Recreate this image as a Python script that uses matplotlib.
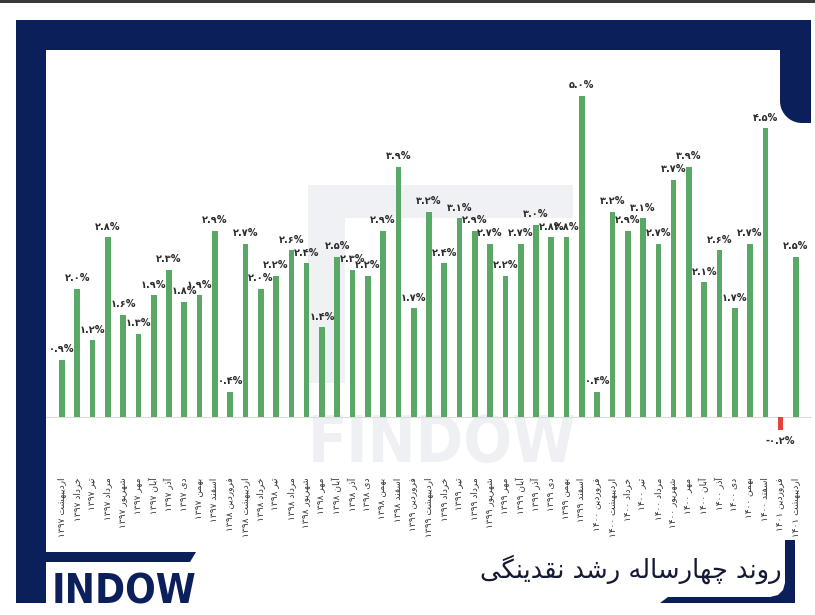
import matplotlib
matplotlib.use("Agg")
import matplotlib.pyplot as plt
from matplotlib.patches import Rectangle, Polygon
import numpy as np

# monthly liquidity growth, Ordibehesht 1397 .. Ordibehesht 1401
labels = [
    'اردیبهشت 1397', 'خرداد 1397', 'تیر 1397', 'مرداد 1397', 'شهریور 1397', 'مهر 1397',
    'آبان 1397', 'آذر 1397', 'دی 1397', 'بهمن 1397', 'اسفند 1397',
    'فروردین 1398', 'اردیبهشت 1398', 'خرداد 1398', 'تیر 1398', 'مرداد 1398', 'شهریور 1398',
    'مهر 1398', 'آبان 1398', 'آذر 1398', 'دی 1398', 'بهمن 1398', 'اسفند 1398',
    'فروردین 1399', 'اردیبهشت 1399', 'خرداد 1399', 'تیر 1399', 'مرداد 1399', 'شهریور 1399',
    'مهر 1399', 'آبان 1399', 'آذر 1399', 'دی 1399', 'بهمن 1399', 'اسفند 1399',
    'فروردین 1400', 'اردیبهشت 1400', 'خرداد 1400', 'تیر 1400', 'مرداد 1400', 'شهریور 1400',
    'مهر 1400', 'آبان 1400', 'آذر 1400', 'دی 1400', 'بهمن 1400', 'اسفند 1400',
    'فروردین 1401', 'اردیبهشت 1401',
]
growth = [0.9, 2.0, 1.2, 2.8, 1.6, 1.3, 1.9, 2.3, 1.8, 1.9, 2.9,
          0.4, 2.7, 2.0, 2.2, 2.6, 2.4, 1.4, 2.5, 2.3, 2.2, 2.9, 3.9,
          1.7, 3.2, 2.4, 3.1, 2.9, 2.7, 2.2, 2.7, 3.0, 2.8, 2.8, 5.0,
          0.4, 3.2, 2.9, 3.1, 2.7, 3.7, 3.9, 2.1, 2.6, 1.7, 2.7, 4.5,
          -0.2, 2.5]
title = 'روند چهارساله رشد نقدینگی'

NAVY = '#0b1f5b'
GREEN = '#59a866'
RED = '#e2433a'

# --- tiny persian shaper (matplotlib has no bidi / joining) ---
FORMS = {
    'ا': ('\ufe8d', '\ufe8e'), 'آ': ('\ufe81', '\ufe82'),
    'د': ('\ufea9', '\ufeaa'), 'ذ': ('\ufeab', '\ufeac'),
    'ر': ('\ufead', '\ufeae'), 'ز': ('\ufeaf', '\ufeb0'),
    'و': ('\ufeed', '\ufeee'),
    'ب': ('\ufe8f', '\ufe90', '\ufe91', '\ufe92'),
    'ت': ('\ufe95', '\ufe96', '\ufe97', '\ufe98'),
    'خ': ('\ufea5', '\ufea6', '\ufea7', '\ufea8'),
    'س': ('\ufeb1', '\ufeb2', '\ufeb3', '\ufeb4'),
    'ش': ('\ufeb5', '\ufeb6', '\ufeb7', '\ufeb8'),
    'ف': ('\ufed1', '\ufed2', '\ufed3', '\ufed4'),
    'ق': ('\ufed5', '\ufed6', '\ufed7', '\ufed8'),
    'ل': ('\ufedd', '\ufede', '\ufedf', '\ufee0'),
    'م': ('\ufee1', '\ufee2', '\ufee3', '\ufee4'),
    'ن': ('\ufee5', '\ufee6', '\ufee7', '\ufee8'),
    'ه': ('\ufee9', '\ufeea', '\ufeeb', '\ufeec'),
    'چ': ('\ufb7a', '\ufb7b', '\ufb7c', '\ufb7d'),
    'گ': ('\ufb92', '\ufb93', '\ufb94', '\ufb95'),
    'ی': ('\ufbfc', '\ufbfd', '\ufbfe', '\ufbff'),
}
FA_DIGITS = str.maketrans('0123456789', '۰۱۲۳۴۵۶۷۸۹')


def shape(word):
    word = word.replace('\u064a', '\u06cc').replace('\u0643', '\u06a9')
    out = []
    for i, ch in enumerate(word):
        f = FORMS.get(ch)
        if f is None:
            out.append(ch)
            continue
        prev = word[i - 1] if i > 0 else ''
        nxt = word[i + 1] if i + 1 < len(word) else ''
        jp = prev in FORMS and len(FORMS[prev]) == 4
        jn = len(f) == 4 and nxt in FORMS
        if jp and jn:
            out.append(f[3])
        elif jp:
            out.append(f[1])
        elif jn:
            out.append(f[2])
        else:
            out.append(f[0])
    return ''.join(out)


def fa(text):
    words = text.translate(FA_DIGITS).split(' ')
    vis = [shape(w)[::-1] if any(c in FORMS for c in w) else w for w in words]
    return ' '.join(vis[::-1])


W, H = 815, 615
fig = plt.figure(figsize=(W / 100, H / 100), dpi=100)
fig.patch.set_facecolor('white')

# background / frame in pixel coords
bg = fig.add_axes([0, 0, 1, 1])
bg.set_xlim(0, W)
bg.set_ylim(H, 0)
bg.axis('off')
bg.add_patch(Rectangle((0, 0), W, 2.5, color='#3a3a3a', lw=0))
bg.add_patch(Rectangle((16, 20), 795, 30, color=NAVY, lw=0))
bg.add_patch(Rectangle((16, 20), 30, 583, color=NAVY, lw=0))
bg.add_patch(Polygon([(46, 552), (196, 552), (190, 562), (46, 562)], color=NAVY, lw=0))
t = np.linspace(0, np.pi / 2, 20)
tab = [(780, 50), (780, 101)] + [(802 - 22 * np.cos(a), 101 + 22 * np.sin(a)) for a in t] + [(811, 123), (811, 50)]
bg.add_patch(Polygon(tab, color=NAVY, lw=0))
corner = [(785, 540), (795, 540), (795, 603), (660, 603), (668, 597), (770, 597),
          (778, 595), (783, 590), (785, 583)]
bg.add_patch(Polygon(corner, color=NAVY, lw=0))

# watermark
bg.add_patch(Rectangle((308, 185), 265, 33, color='#eff1f4', lw=0))
bg.add_patch(Rectangle((308, 218), 37, 165, color='#eff1f4', lw=0))
bg.text(442, 462, 'FINDOW', ha='center', va='baseline', fontsize=46, weight='bold',
        fontstretch='condensed', color='#eef0f3', family='DejaVu Sans')

bg.text(52, 603, 'INDOW', ha='left', va='baseline', fontsize=29, weight='bold',
        fontstretch='condensed', color=NAVY, family='DejaVu Sans')
bg.text(782, 569, fa(title), ha='right', va='center', fontsize=18.5,
        color='#141a33', family='DejaVu Sans')

# chart
ax = fig.add_axes([46 / W, 1 - 472 / H, (812 - 46) / W, (472 - 60) / H])
ax.patch.set_alpha(0)
x = np.arange(len(growth))
colors = [GREEN if v >= 0 else RED for v in growth]
ax.bar(x, growth, width=0.37, color=colors, zorder=3)
ax.axhline(0, color='#dcdcdc', lw=0.8, zorder=1)
ax.set_xlim(-1.046, 49.05)
ax.set_ylim(-0.848, 5.56)

for xi, v in zip(x, growth):
    txt = f'{v:.1f}%'.translate(FA_DIGITS)
    if v >= 0:
        ax.annotate(txt, (xi, v), xytext=(0, 4), textcoords='offset points',
                    ha='center', va='bottom', fontsize=7, weight='bold', color='#2b2b2b')
    else:
        ax.annotate(txt, (xi, v), xytext=(0, -4), textcoords='offset points',
                    ha='center', va='top', fontsize=7, weight='bold', color='#2b2b2b')

ax.set_xticks(x)
ax.set_xticklabels([fa(l) for l in labels], rotation=90, fontsize=6.5, color='#333333')
ax.tick_params(axis='x', length=0, pad=4)
ax.set_yticks([])
for s in ax.spines.values():
    s.set_visible(False)

fig.savefig('out.png', dpi=100, facecolor='white')
